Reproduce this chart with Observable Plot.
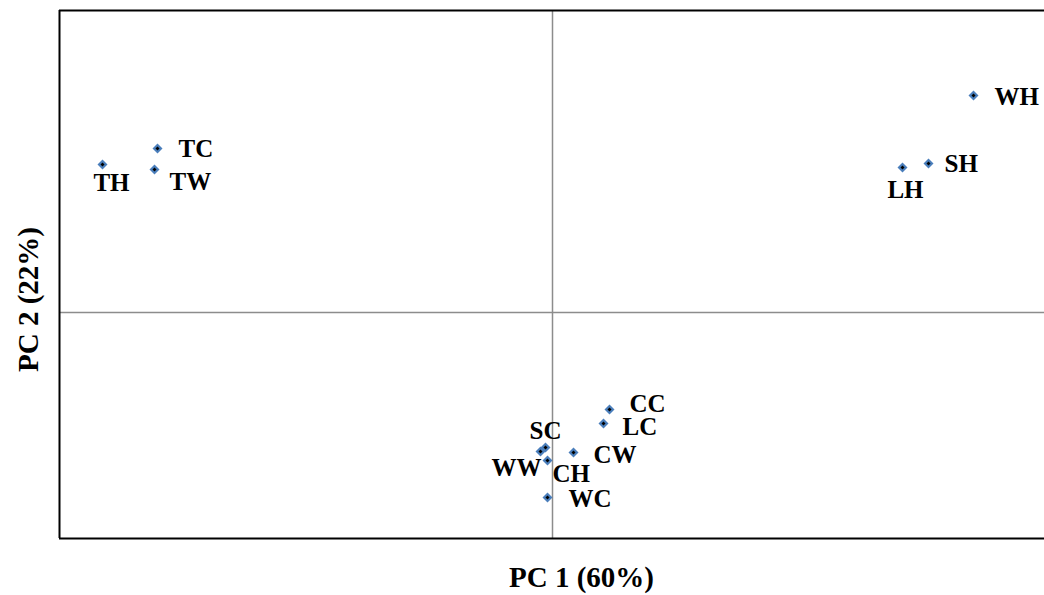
<!DOCTYPE html>
<html><head><meta charset="utf-8">
<script src="https://cdn.jsdelivr.net/npm/d3@7"></script>
<script src="https://cdn.jsdelivr.net/npm/@observablehq/plot@0.6"></script>
<style>body{margin:0;background:#fff}</style>
</head><body><div id="chart"></div>
<script>
const names = ["TH","TC","TW","WH","SH","LH","CC","LC","SC","WW","CH","CW","WC"];
const pc1 = [-4.50,-3.95,-3.98,4.21,3.76,3.50,0.57,0.51,-0.07,-0.12,-0.05,0.21,-0.05];
const pc2 = [1.48,1.64,1.43,2.17,1.49,1.45,-0.97,-1.11,-1.35,-1.39,-1.48,-1.40,-1.85];
// label placement (anchor, dx, dy)
const place = {
  TH:["middle",9,18], TC:["start",21,0], TW:["start",15,12], WH:["start",21,1],
  SH:["start",16,0], LH:["middle",3,22], CC:["start",20,-6], LC:["start",19,3],
  SC:["middle",0,-17], WW:["end",1,16], CH:["start",5,13], CW:["start",20,2], WC:["start",21,1]
};
const data = names.map((n,i)=>({name:n,x:pc1[i],y:pc2[i]}));
const xd=[-4.93,4.92], yd=[-2.26,3.02];
const font = "'Liberation Serif','Times New Roman',serif";
const marks = [
  Plot.ruleX([0],{stroke:"#8c8c8c",strokeWidth:1.5}),
  Plot.ruleY([0],{stroke:"#8c8c8c",strokeWidth:1.5}),
  Plot.ruleX([xd[0]],{stroke:"#000",strokeWidth:2}),
  Plot.ruleY([yd[1]],{stroke:"#000",strokeWidth:2}),
  Plot.ruleY([yd[0]],{stroke:"#000",strokeWidth:2}),
  Plot.dot(data,{x:"x",y:"y",symbol:"diamond2",r:4.5,fill:"#4a7ebb",stroke:"none"}),
  Plot.dot(data,{x:"x",y:"y",symbol:"diamond2",r:1.8,fill:"#000",stroke:"none"}),
];
for (const d of data) {
  const [a,dx,dy] = place[d.name];
  marks.push(Plot.text([d],{x:"x",y:"y",text:"name",textAnchor:a,dx,dy,fontSize:25,fontWeight:"bold",fontFamily:font,fill:"#000"}));
}
marks.push(Plot.text([{t:"PC 1 (60%)",x:0.29,y:-2.65}],{x:"x",y:"y",text:"t",fontSize:29,fontWeight:"bold",fontFamily:font,fill:"#000"}));
marks.push(Plot.text([{t:"PC 2 (22%)",x:-5.24,y:0.13}],{x:"x",y:"y",text:"t",rotate:-90,fontSize:29,fontWeight:"bold",fontFamily:font,fill:"#000"}));
const chart = Plot.plot({
  width:1044,height:595,marginLeft:59,marginRight:0,marginTop:10,marginBottom:57,
  x:{domain:xd,axis:null}, y:{domain:yd,axis:null},
  style:{background:"#fff",overflow:"visible"},
  marks
});
document.getElementById("chart").appendChild(chart);
</script></body></html>
